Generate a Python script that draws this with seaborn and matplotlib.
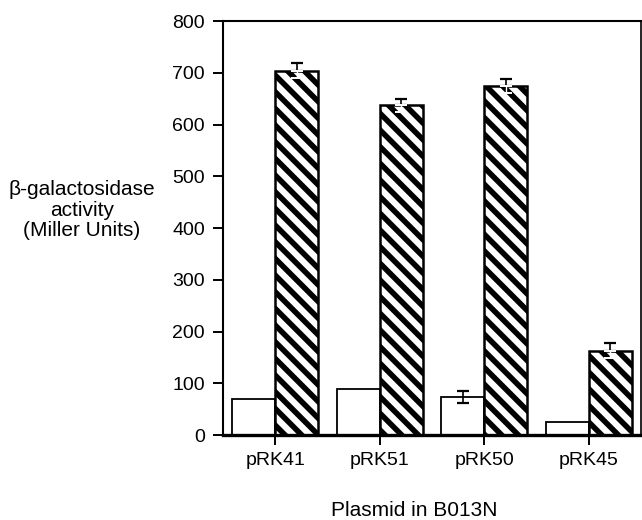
import matplotlib
matplotlib.use("Agg")
import matplotlib.pyplot as plt
import seaborn as sns
import pandas as pd

plasmids = ["pRK41", "pRK51", "pRK50", "pRK45"]
conditions = ["uninduced", "induced"]
white_vals = [70, 89, 73, 25]
hatched_vals = [704, 637, 674, 163]
white_err = [0, 0, 12, 0]
hatched_err = [14, 13, 14, 14]
yticks = [0, 100, 200, 300, 400, 500, 600, 700, 800]

sns.set_theme(style="ticks")
plt.rcParams["font.family"] = ["Liberation Sans", "DejaVu Sans"]
plt.rcParams["text.color"] = "black"
plt.rcParams["hatch.linewidth"] = 4.0
plt.rcParams["hatch.color"] = "black"

df = pd.DataFrame({
    "plasmid": plasmids * 2,
    "cond": [conditions[0]] * 4 + [conditions[1]] * 4,
    "value": white_vals + hatched_vals,
})

fig = plt.figure(figsize=(6.42, 5.2), dpi=100)
ax = fig.add_axes([223 / 642, 1 - 435 / 520, (641 - 223) / 642, (435 - 21) / 520])

sns.barplot(data=df, x="plasmid", y="value", hue="cond", order=plasmids,
            hue_order=conditions, palette=["white", "white"], width=0.82,
            errorbar=None, edgecolor="black", linewidth=1.3, legend=False, ax=ax)

for p in ax.containers[1]:
    p.set_hatch("\\\\")
    p.set_edgecolor("black")
    p.set_linewidth(1.8)

wx = [p.get_x() + p.get_width() / 2 for p in ax.containers[0]]
hx = [p.get_x() + p.get_width() / 2 for p in ax.containers[1]]

for x, v, e in zip(wx, white_vals, white_err):
    if e > 0:
        ax.errorbar([x], [v], yerr=[e], fmt="none", ecolor="black",
                    elinewidth=1.2, capsize=4.5, capthick=1.6, zorder=5)
for x, v, e in zip(hx, hatched_vals, hatched_err):
    ax.errorbar([x], [v], yerr=[[0], [e]], fmt="none", ecolor="black",
                elinewidth=1.2, capsize=4.5, capthick=1.6, zorder=5)
    ax.errorbar([x], [v], yerr=[[e], [0]], fmt="none", ecolor="white",
                elinewidth=1.0, capsize=4.0, capthick=1.4, zorder=5)

ax.set_xlim(-0.5, 3.5)
ax.set_ylim(0, 800)
ax.set_yticks(yticks)
ax.set_yticklabels([str(t) for t in yticks], fontsize=14)
ax.tick_params(axis="y", direction="out", length=7, width=1.4, pad=6, colors="black")
ax.tick_params(axis="x", direction="out", length=7, width=1.4, pad=5, labelsize=14, colors="black")
ax.set_xlabel("")
ax.set_ylabel("")

for side in ["left", "top", "right", "bottom"]:
    ax.spines[side].set_visible(True)
    ax.spines[side].set_color("black")
ax.spines["left"].set_linewidth(1.5)
ax.spines["top"].set_linewidth(1.5)
ax.spines["right"].set_linewidth(1.2)
ax.spines["bottom"].set_linewidth(2.4)

fig.text(82 / 642, 1 - 210 / 520, "β-galactosidase\nactivity\n(Miller Units)",
         ha="center", va="center", fontsize=15, linespacing=1.12, color="black")
fig.text(414 / 642, 1 - 510 / 520, "Plasmid in B013N", ha="center", va="center",
         fontsize=15, color="black")

fig.savefig("out.png", dpi=100)
